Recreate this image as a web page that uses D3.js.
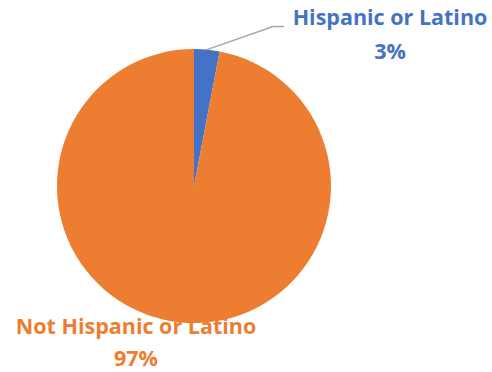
<!DOCTYPE html>
<html>
<head>
<meta charset="utf-8">
<script src="https://cdn.jsdelivr.net/npm/d3@7"></script>
<style>
  html, body { margin: 0; padding: 0; background: #ffffff; }
  svg { display: block; }
  text { font-family: "Open Sans", Lato, sans-serif; font-weight: 700; }
</style>
</head>
<body>
<svg id="chart" width="492" height="372"></svg>
<script>
// Ethnicity breakdown (percent)
const categories = ["Hispanic or Latino", "Not Hispanic or Latino"];
const values = [3, 97];
const labels = ["3%", "97%"];
const colors = ["#4472C4", "#ED7D31"];

const svg = d3.select("#chart");
const cx = 194, cy = 186, radius = 137;

const pie = d3.pie().sort(null).value(d => d.value);
const arcs = pie(categories.map((c, i) => ({ name: c, value: values[i], label: labels[i], color: colors[i] })));
const arc = d3.arc().innerRadius(0).outerRadius(radius);

const g = svg.append("g").attr("transform", `translate(${cx},${cy})`);

g.selectAll("path.slice")
  .data(arcs)
  .join("path")
  .attr("class", "slice")
  .attr("d", arc)
  .attr("fill", d => d.data.color);

// Leader line for the small slice: from arc midpoint up to the label
const small = arcs[0];
const mid = (small.startAngle + small.endAngle) / 2;
const p0 = [Math.sin(mid) * radius, -Math.cos(mid) * radius];
const elbow = [273 - cx, 26.5 - cy];
const end = [284 - cx, 26.5 - cy];
g.append("polyline")
  .attr("points", [p0, elbow, end].map(p => p.join(",")).join(" "))
  .attr("fill", "none")
  .attr("stroke", "#A6A6A6")
  .attr("stroke-width", 1.5);

// Data labels
const labelPos = [
  { x: 390, y1: 25, y2: 59 },
  { x: 136, y1: 334, y2: 366 }
];
arcs.forEach((d, i) => {
  const t = svg.append("text")
    .attr("text-anchor", "middle")
    .attr("fill", d.data.color)
    .style("font-size", "21.5px");
  t.append("tspan").attr("x", labelPos[i].x).attr("y", labelPos[i].y1).text(d.data.name);
  t.append("tspan").attr("x", labelPos[i].x).attr("y", labelPos[i].y2).text(d.data.label);
});
</script>
</body>
</html>
